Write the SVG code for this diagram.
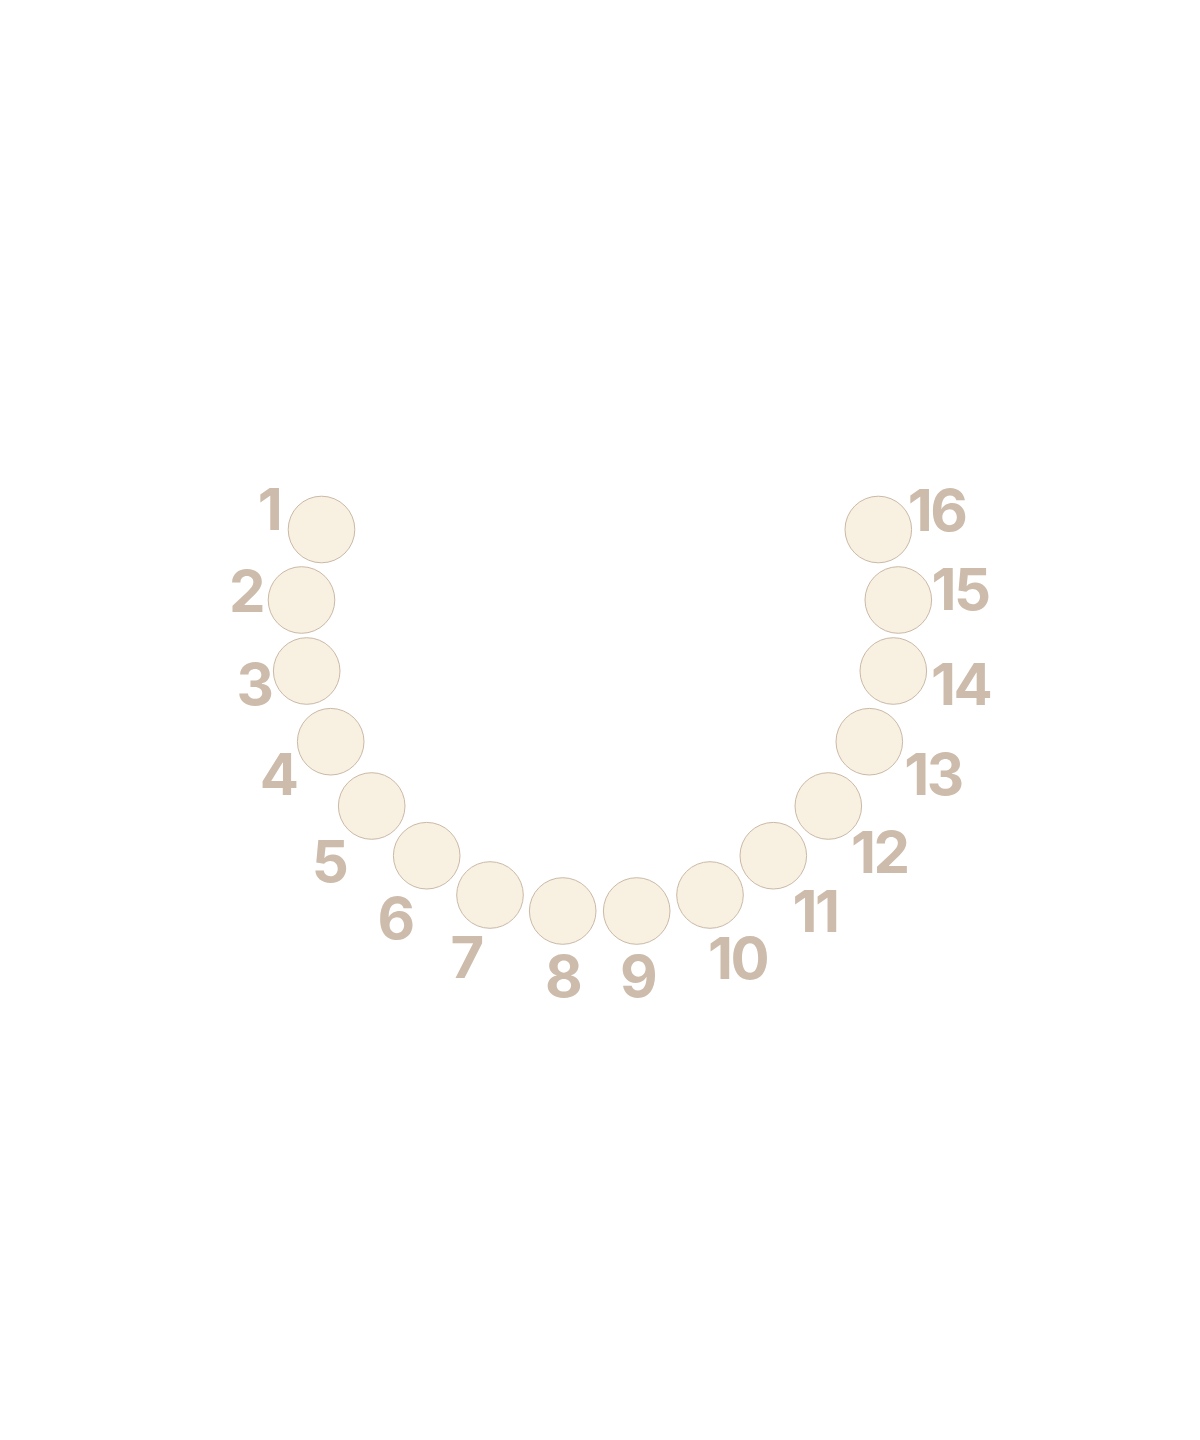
<svg xmlns="http://www.w3.org/2000/svg" width="1200" height="1440" viewBox="0 0 1200 1440">
<style>
.tooth{fill:#f8f0e1;stroke:#cbb9a6;stroke-width:1}
.lbl{font-family:Inter,"Open Sans","Liberation Sans",sans-serif;font-weight:700;font-size:58px;fill:#cdbcab;text-anchor:middle;letter-spacing:-2.5px}
</style>
<rect width="1200" height="1440" fill="#ffffff"/>
<g id="connectors"></g>
<g id="t1"><circle class="tooth" cx="321.5" cy="529.5" r="33.3"/><text class="lbl" x="269" y="530">1</text></g>
<g id="t2"><circle class="tooth" cx="301.5" cy="600" r="33.3"/><text class="lbl" x="246" y="611.5">2</text></g>
<g id="t3"><circle class="tooth" cx="306.7" cy="671" r="33.3"/><text class="lbl" x="254" y="705">3</text></g>
<g id="t4"><circle class="tooth" cx="330.7" cy="741.7" r="33.3"/><text class="lbl" x="278" y="795">4</text></g>
<g id="t5"><circle class="tooth" cx="371.7" cy="806" r="33.3"/><text class="lbl" x="329" y="882">5</text></g>
<g id="t6"><circle class="tooth" cx="426.7" cy="855.7" r="33.3"/><text class="lbl" x="395" y="939">6</text></g>
<g id="t7"><circle class="tooth" cx="490" cy="895" r="33.3"/><text class="lbl" x="466" y="978">7</text></g>
<g id="t8"><circle class="tooth" cx="562.7" cy="911" r="33.3"/><text class="lbl" x="562.7" y="996.7">8</text></g>
<g id="t9"><circle class="tooth" cx="636.7" cy="911" r="33.3"/><text class="lbl" x="637.5" y="997">9</text></g>
<g id="t10"><circle class="tooth" cx="710" cy="895" r="33.3"/><text class="lbl" x="737.5" y="979">10</text></g>
<g id="t11"><circle class="tooth" cx="773.3" cy="855.7" r="33.3"/><text class="lbl" x="815" y="931.7">11</text></g>
<g id="t12"><circle class="tooth" cx="828.3" cy="806" r="33.3"/><text class="lbl" x="879.3" y="872.7">12</text></g>
<g id="t13"><circle class="tooth" cx="869.3" cy="741.7" r="33.3"/><text class="lbl" x="933" y="795">13</text></g>
<g id="t14"><circle class="tooth" cx="893.3" cy="671" r="33.3"/><text class="lbl" x="960.5" y="705">14</text></g>
<g id="t15"><circle class="tooth" cx="898.3" cy="600" r="33.3"/><text class="lbl" x="960" y="610">15</text></g>
<g id="t16"><circle class="tooth" cx="878.3" cy="529.5" r="33.3"/><text class="lbl" x="936.7" y="531">16</text></g>
</svg>
